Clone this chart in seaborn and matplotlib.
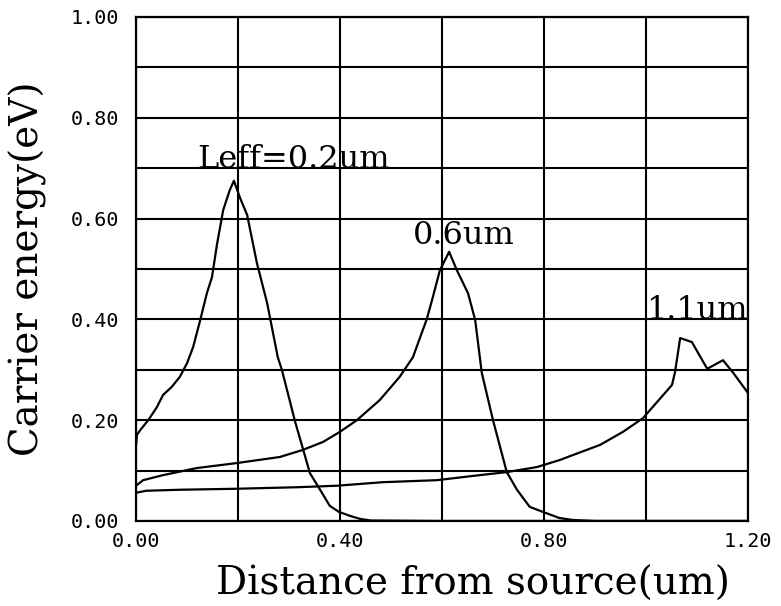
import matplotlib
matplotlib.use("Agg")
import matplotlib.pyplot as plt
from matplotlib.ticker import MultipleLocator, FormatStrFormatter
import seaborn as sns
import pandas as pd

# Leff = 0.2 um
x_02 = [0.0, 0.002, 0.008, 0.024, 0.041, 0.053, 0.07, 0.086, 0.1, 0.112, 0.125, 0.139,
        0.149, 0.159, 0.171, 0.184, 0.192, 0.204, 0.218, 0.237, 0.257, 0.278, 0.286,
        0.312, 0.328, 0.341, 0.361, 0.38, 0.398, 0.42, 0.44, 0.46, 0.6, 0.9, 1.2]
y_02 = [0.15, 0.171, 0.18, 0.20, 0.226, 0.25, 0.266, 0.286, 0.313, 0.345, 0.395, 0.452,
        0.484, 0.55, 0.617, 0.657, 0.675, 0.641, 0.607, 0.512, 0.433, 0.325, 0.30,
        0.197, 0.141, 0.095, 0.062, 0.03, 0.018, 0.01, 0.004, 0.001, 0.0, 0.0, 0.0]

# Leff = 0.6 um
x_06 = [0.0, 0.014, 0.053, 0.119, 0.198, 0.282, 0.327, 0.367, 0.4, 0.433, 0.478, 0.517,
        0.543, 0.57, 0.582, 0.596, 0.606, 0.614, 0.629, 0.651, 0.665, 0.678, 0.7,
        0.727, 0.747, 0.772, 0.798, 0.83, 0.857, 0.9, 1.2]
y_06 = [0.07, 0.081, 0.091, 0.105, 0.115, 0.127, 0.141, 0.157, 0.177, 0.2, 0.24, 0.286,
        0.325, 0.40, 0.444, 0.498, 0.518, 0.534, 0.498, 0.452, 0.399, 0.294, 0.2,
        0.097, 0.062, 0.028, 0.018, 0.006, 0.002, 0.0, 0.0]

# Leff = 1.1 um
x_11 = [0.0, 0.02, 0.086, 0.198, 0.316, 0.394, 0.484, 0.59, 0.674, 0.727, 0.786, 0.831,
        0.857, 0.91, 0.955, 0.994, 1.051, 1.057, 1.067, 1.09, 1.12, 1.151, 1.171, 1.2]
y_11 = [0.056, 0.06, 0.062, 0.064, 0.067, 0.07, 0.077, 0.081, 0.091, 0.097, 0.107, 0.121,
        0.131, 0.151, 0.177, 0.204, 0.27, 0.296, 0.363, 0.355, 0.302, 0.319, 0.294, 0.254]

curve_labels = ["Leff=0.2um", "0.6um", "1.1um"]
label_x = [0.12, 0.543, 1.2]
label_y = [0.70, 0.55, 0.40]

x_ticks = [0.0, 0.4, 0.8, 1.2]
y_ticks = [0.0, 0.2, 0.4, 0.6, 0.8, 1.0]

df = pd.concat([
    pd.DataFrame({"x": x_02, "y": y_02, "curve": curve_labels[0]}),
    pd.DataFrame({"x": x_06, "y": y_06, "curve": curve_labels[1]}),
    pd.DataFrame({"x": x_11, "y": y_11, "curve": curve_labels[2]}),
])

sns.set_theme(style="white")
plt.rcParams["font.family"] = ["DejaVu Sans"]

fig = plt.figure(figsize=(7.81, 6.06), dpi=100)
ax = fig.add_axes([136 / 781, 1 - 521 / 606, 612 / 781, 504 / 606])

for name in curve_labels:
    sns.lineplot(data=df[df["curve"] == name], x="x", y="y", sort=False,
                 color="black", linewidth=1.6, ax=ax, legend=False, zorder=3)

ax.set_xlim(0, 1.2)
ax.set_ylim(0, 1.0)
ax.set_xticks(x_ticks)
ax.set_yticks(y_ticks)
ax.xaxis.set_minor_locator(MultipleLocator(0.2))
ax.yaxis.set_minor_locator(MultipleLocator(0.1))
ax.xaxis.set_major_formatter(FormatStrFormatter("%.2f"))
ax.yaxis.set_major_formatter(FormatStrFormatter("%.2f"))
ax.grid(True, which="both", color="black", linewidth=1.5)
ax.tick_params(which="both", length=0)
ax.tick_params(axis="y", pad=12)
ax.tick_params(axis="x", pad=8)
for lab in ax.get_xticklabels() + ax.get_yticklabels():
    lab.set_fontfamily("DejaVu Sans Mono")
    lab.set_fontsize(14.5)
    lab.set_color("black")
for sp in ax.spines.values():
    sp.set_color("black")
    sp.set_linewidth(1.6)

ax.set_xlabel("Distance from source(um)", fontfamily="DejaVu Serif",
              fontsize=28, color="black", va="center")
ax.xaxis.set_label_coords(0.55, -0.125)
ax.set_ylabel("Carrier energy(eV)", fontfamily="DejaVu Serif",
              fontsize=28, color="black", va="center")
ax.yaxis.set_label_coords(-0.176, 0.5)

for name, lx, ly in zip(curve_labels, label_x, label_y):
    ha = "right" if lx >= 1.2 else "left"
    ax.text(lx, ly, name, ha=ha, va="baseline", fontfamily="DejaVu Serif",
            fontsize=23, color="black", zorder=4)

fig.savefig("out.png", dpi=100)
